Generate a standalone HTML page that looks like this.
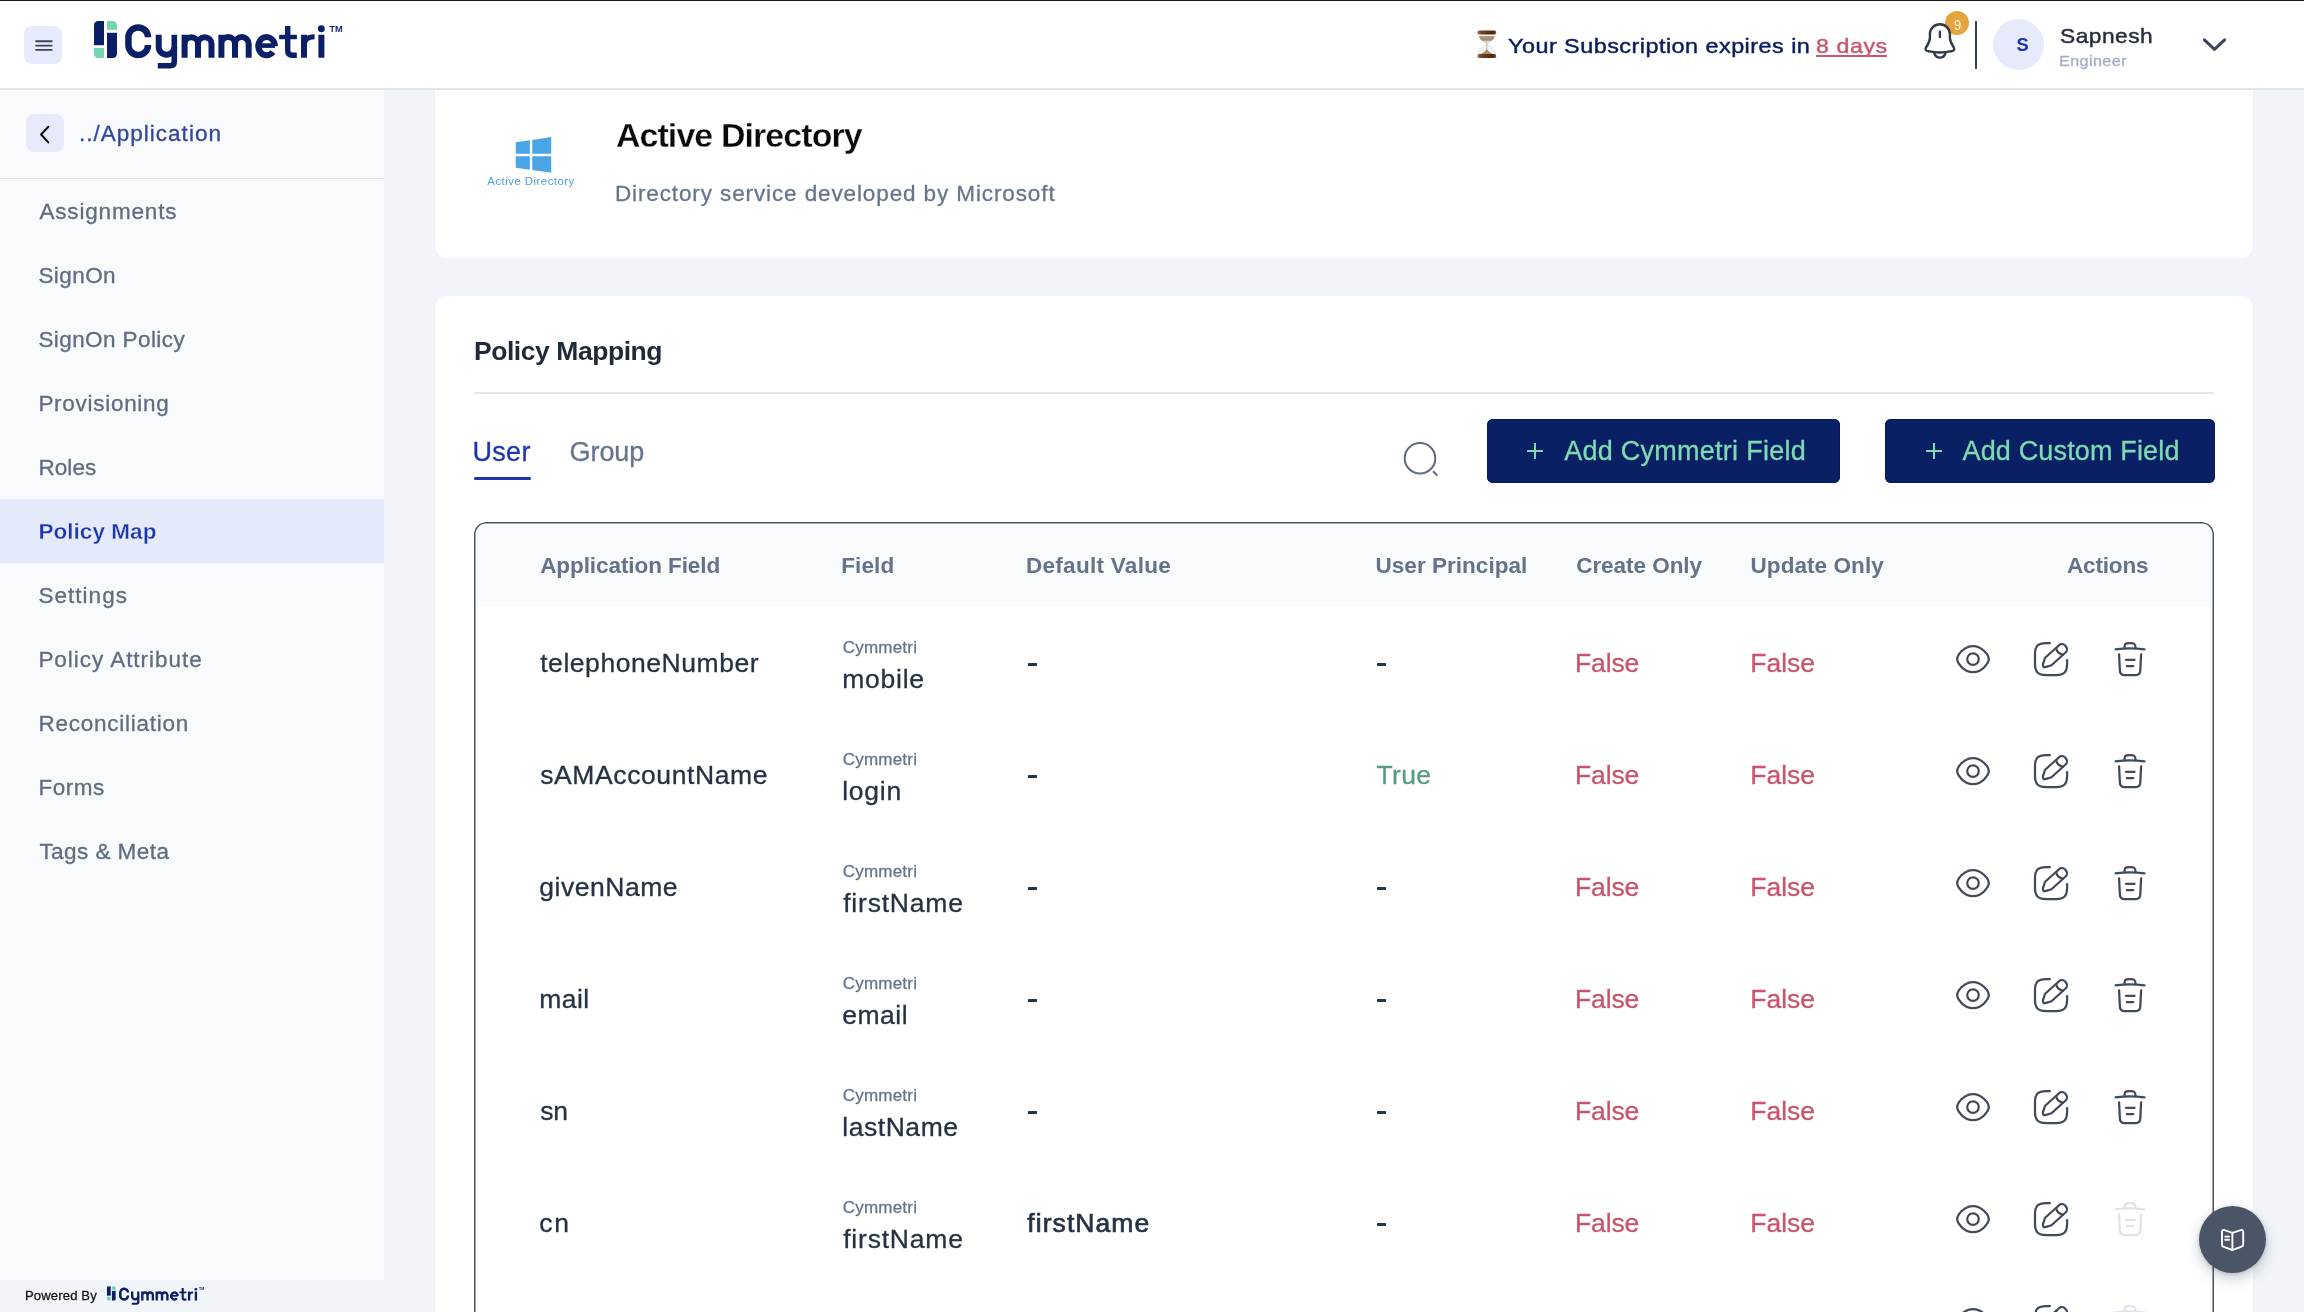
<!DOCTYPE html>
<html lang="en"><head><meta charset="utf-8"><title>Cymmetri - Active Directory - Policy Map</title>
<style>
*{box-sizing:border-box;margin:0;padding:0}
html,body{width:2304px;height:1312px;overflow:hidden;background:#f1f5f9}
body{position:relative;font-family:"Liberation Sans",sans-serif;-webkit-font-smoothing:antialiased}
.abs,.t{position:absolute;display:block}
.t{white-space:nowrap;line-height:1;font-weight:400;font-style:normal;-webkit-text-stroke:.3px currentColor}
h1,h2,p{margin:0}
i{font-style:normal}
button{border:0;background:none;font:inherit;padding:0;cursor:pointer}
ul{list-style:none}
#topline{position:absolute;left:0;top:0;width:2304px;height:1px;background:#15171c;z-index:9}
header,aside,main,footer{will-change:transform}
header{position:absolute;left:0;top:0;width:2304px;height:90px;background:#fff;border-bottom:2px solid #e2e7ee;z-index:5}
.sq{width:38px;height:38px;border-radius:8px;background:#e6eafb}
aside{position:absolute;left:0;top:90px;width:384px;height:1190px;background:#f8fafc;overflow:hidden}
aside li{position:absolute;left:0;width:384px;height:64px}
aside li.on{background:#e5eafb}
main{position:absolute;left:384px;top:90px;width:1920px;height:1222px;background:#f1f5f9;overflow:hidden}
.card{position:absolute;background:#fff;overflow:hidden}
.btn{height:64px;border-radius:6px;background:#0a2064;box-shadow:inset 0 0 0 1px #06195a}
.table{position:absolute;border-radius:12px;background:#fff;overflow:hidden}
.thead{position:absolute;background:#f8fafc;border-radius:9px 9px 0 0}
.tr{position:absolute;left:0;width:1740px;height:112px}
.dash{width:9.2px;height:2.8px;background:#273244;border-radius:.5px}
footer{position:absolute;left:0;top:1280px;width:384px;height:32px;background:#f1f5f9}
.fab{width:67px;height:67px;border-radius:50%;background:#4a5568;box-shadow:0 6px 14px rgba(30,41,59,.22),0 1px 4px rgba(30,41,59,.18);z-index:8}
</style></head><body>
<div id="topline"></div>
<header><button class="abs sq" style="left:24px;top:26px" aria-label="menu"><svg width="38" height="38" viewBox="0 0 38 38"><path d="M12.1 15.3H27.7M12.1 19.6H27.7M12.1 23.9H27.7" stroke="#3b4558" stroke-width="1.9" stroke-linecap="round" fill="none"/></svg></button><svg class="abs" style="left:92px;top:18px" width="254.00" height="54.00" viewBox="92 18 254 54">
<defs><clipPath id="mka"><rect x="94" y="21" width="23" height="37" rx="4.2"/></clipPath></defs>
<g clip-path="url(#mka)">
<rect x="94" y="21" width="10" height="24.2" fill="#0b1f66"/>
<rect x="94" y="48" width="10" height="10" fill="#74d4ad"/>
<rect x="107" y="21" width="10" height="8.8" fill="#74d4ad"/>
<rect x="107" y="32.8" width="10" height="25.2" fill="#0b1f66"/>
</g>
<g fill="none" stroke="#0b1f66" stroke-width="6" stroke-linejoin="round">
<path stroke-width="6.5" d="M148 37.3 A9.775 9.775 0 0 0 128.45 37.1 V45.2 A9.775 9.775 0 0 0 148 45"/>
<path d="M158.7 34.75 V46.9 A7.8 7.8 0 0 0 174.3 46.9"/>
<path d="M174.3 34.75 V61.6 Q174.3 65.8 170 65.8 H157.8" stroke-width="5.6"/>
<path d="M184.6 57.7 V34.75 M184.6 43.9 A6.7 6.7 0 0 1 198 43.9 V57.7 M198 43.9 A6.75 6.75 0 0 1 211.5 43.9 V57.7"/>
<path d="M221.4 57.7 V34.75 M221.4 43.9 A6.8 6.8 0 0 1 235 43.9 V57.7 M235 43.9 A6.85 6.85 0 0 1 248.7 43.9 V57.7"/>
<path d="M274.9 46.3 A8.3 9.1 0 1 0 272.96 52"/>
<path d="M258.5 45.6 H275" stroke-width="4.6"/>
<path d="M287.7 25.9 V50.6 Q287.7 55.3 292.4 55.3 H296.8" stroke-width="5.4"/>
<path d="M279.2 37 H296.9" stroke-width="4.5"/>
<path d="M304 57.7 V34.75"/>
<path d="M304 46.5 C304 39.6 307.2 36.8 314.6 36.8" stroke-width="5"/>
<path d="M321.4 34.75 V57.7"/>
</g>
<circle cx="321.3" cy="28.8" r="3.45" fill="#0b1f66"/>
<text x="329.6" y="31.7" font-family="Liberation Sans, sans-serif" font-weight="700" font-size="8.4" textLength="13" lengthAdjust="spacingAndGlyphs" fill="#0b1f66">TM</text>
</svg><svg class="abs" style="left:1474px;top:28px" width="26" height="32" viewBox="1474 28 26 32">
<defs>
<linearGradient id="hgc" x1="0" x2="1" y1="0" y2="0"><stop offset="0" stop-color="#9a6a48"/><stop offset=".25" stop-color="#6e4126"/><stop offset=".8" stop-color="#4a2714"/><stop offset="1" stop-color="#7a4b2d"/></linearGradient>
<linearGradient id="hgu" x1="0" x2="0" y1="34.4" y2="44.2" gradientUnits="userSpaceOnUse"><stop offset="0" stop-color="#f4f4f6"/><stop offset=".17" stop-color="#f4f4f6"/><stop offset=".2" stop-color="#b39d7e"/><stop offset=".6" stop-color="#a38b69"/><stop offset=".68" stop-color="#dcdce0"/><stop offset="1" stop-color="#c8c8ce"/></linearGradient>
</defs>
<path d="M1478.8 34.4 C1478.8 40.4 1484.2 42 1486.85 44.3 C1489.5 42 1494.9 40.4 1494.9 34.4 Z" fill="url(#hgu)"/>
<path d="M1486.85 43.9 C1484.2 46.4 1478.8 47.8 1478.8 54 H1494.9 C1494.9 47.8 1489.5 46.4 1486.85 43.9 Z" fill="#f3f4f8" stroke="#d9dbe3" stroke-width=".7"/>
<path d="M1486.85 44 V50" stroke="#cdb999" stroke-width="1"/>
<path d="M1486.85 49.3 C1488.5 51.6 1491 53 1492.8 54.2 H1480.9 C1482.7 53 1485.2 51.6 1486.85 49.3 Z" fill="#b58d58"/>
<rect x="1477.5" y="30.6" width="18.7" height="3.8" rx="1.7" fill="url(#hgc)"/>
<rect x="1477.5" y="54" width="18.7" height="4" rx="1.7" fill="url(#hgc)"/>
</svg><span class="t" style="left:1508.20px;top:35.00px;font-size:21px;color:#0b1d5e;letter-spacing:0.421px;transform:scaleX(1.1142);transform-origin:0 0;-webkit-text-stroke:.45px #0b1d5e;">Your Subscription expires in</span><span class="t" style="left:1816.20px;top:35.00px;font-size:21px;color:#c9586d;letter-spacing:0.501px;transform:scaleX(1.1053);transform-origin:0 0;-webkit-text-stroke:.45px #c9586d;">8 days</span><i class="abs" style="left:1816px;top:54.5px;width:71px;height:2px;background:#c9586d"></i><i class="abs" style="left:1945px;top:11px;width:24px;height:24px;border-radius:50%;background:#e4a53e"></i><span class="t" style="left:1953.60px;top:17.00px;font-size:15.5px;color:#fff4d8;-webkit-text-stroke:0;transform:scaleX(.84);transform-origin:0 0;">9</span><svg class="abs" style="left:1920px;top:20px" width="40" height="42" viewBox="1920 20 40 42"><g fill="none" stroke="#2f3a4d" stroke-width="2.4" stroke-linecap="round" stroke-linejoin="round">
<path d="M1939.9 24.2 C1934.4 24.2 1929.9 28.7 1929.9 34.2 V37.8 C1929.9 41.4 1928.4 43.8 1926.6 46.5 C1924.7 49.3 1925.2 50.6 1928.4 51.2 C1932 52 1936 52.5 1939.9 52.5 C1943.8 52.5 1947.8 52 1951.4 51.2 C1954.6 50.6 1955.1 49.3 1953.2 46.5 C1951.4 43.8 1949.9 41.4 1949.9 37.8 V34.2 C1949.9 28.7 1945.4 24.2 1939.9 24.2 Z"/>
<path d="M1934.4 53.7 C1935.5 56.5 1937.5 57.6 1939.9 57.6 C1942.3 57.6 1944.3 56.5 1945.4 53.7"/>
<path d="M1939.9 31.7 V37.1"/></g></svg><i class="abs" style="left:1975px;top:21px;width:2px;height:48px;background:#364053"></i><i class="abs" style="left:1993px;top:19px;width:51px;height:51px;border-radius:50%;background:#e6eafb"></i><span class="t" style="left:2016.40px;top:36.00px;font-size:18.3px;color:#1a34b4;font-weight:700;-webkit-text-stroke:0;">S</span><span class="t" style="left:2060.40px;top:25.00px;font-size:21px;color:#242e3f;letter-spacing:0.447px;transform:scaleX(1.0824);transform-origin:0 0;-webkit-text-stroke:.45px #242e3f;">Sapnesh</span><span class="t" style="left:2059.29px;top:54.00px;font-size:14.5px;color:#a3adc4;letter-spacing:0.361px;transform:scaleX(1.1148);transform-origin:0 0;">Engineer</span><svg class="abs" style="left:2200px;top:34px" width="30" height="22" viewBox="2200 34 30 22"><path d="M2204.4 39.8 L2214.5 49.4 L2224.6 39.8" fill="none" stroke="#3a4659" stroke-width="3" stroke-linecap="round" stroke-linejoin="round"/></svg></header>
<aside><nav><a class="abs sq" style="left:26px;top:24px"><svg width="38" height="38" viewBox="0 0 38 38"><path d="M22.3 12.7 L15.1 20.5 L22.3 28.4" fill="none" stroke="#0c0c0c" stroke-width="2" stroke-linecap="round" stroke-linejoin="round"/></svg></a><span class="t" style="left:79.00px;top:33.00px;font-size:22.5px;color:#2f4798;letter-spacing:1.007px;">../Application</span><i class="abs" style="left:0;top:88px;width:384px;height:1px;background:#dfe4eb"></i><ul><li style="top:89px"><span class="t" style="left:39.40px;top:22.00px;font-size:22.5px;color:#5f6c81;letter-spacing:0.835px;">Assignments</span></li><li style="top:153px"><span class="t" style="left:38.40px;top:22.00px;font-size:22.5px;color:#5f6c81;letter-spacing:0.433px;">SignOn</span></li><li style="top:217px"><span class="t" style="left:38.40px;top:22.00px;font-size:22.5px;color:#5f6c81;letter-spacing:0.411px;">SignOn Policy</span></li><li style="top:281px"><span class="t" style="left:38.40px;top:22.00px;font-size:22.5px;color:#5f6c81;letter-spacing:0.714px;">Provisioning</span></li><li style="top:345px"><span class="t" style="left:38.40px;top:22.00px;font-size:22.5px;color:#5f6c81;letter-spacing:0.106px;">Roles</span></li><li class="on" style="top:409px"><span class="t" style="left:38.40px;top:22.00px;font-size:22.5px;color:#1c37ac;font-weight:700;letter-spacing:0.057px;-webkit-text-stroke:.35px #e5eafb;">Policy Map</span></li><li style="top:473px"><span class="t" style="left:38.40px;top:22.00px;font-size:22.5px;color:#5f6c81;letter-spacing:1.036px;">Settings</span></li><li style="top:537px"><span class="t" style="left:38.40px;top:22.00px;font-size:22.5px;color:#5f6c81;letter-spacing:0.963px;">Policy Attribute</span></li><li style="top:601px"><span class="t" style="left:38.40px;top:22.00px;font-size:22.5px;color:#5f6c81;letter-spacing:0.749px;">Reconciliation</span></li><li style="top:665px"><span class="t" style="left:38.40px;top:22.00px;font-size:22.5px;color:#5f6c81;letter-spacing:0.502px;">Forms</span></li><li style="top:729px"><span class="t" style="left:39.40px;top:22.00px;font-size:22.5px;color:#5f6c81;letter-spacing:0.446px;">Tags &amp; Meta</span></li></ul></nav></aside>
<main><section class="card" style="left:51px;top:-50px;width:1818px;height:218px;border-radius:0 0 12px 12px"><svg class="abs" style="left:80px;top:96px" width="38" height="38" viewBox="515 136 38 38"><g fill="#4aa5e6">
<path d="M515.74 142.27 L529.88 140.3 V153.85 H515.74 Z"/><path d="M532.28 139.98 L551.22 137.1 V153.85 H532.28 Z"/>
<path d="M515.74 156.25 H529.88 V169.74 L515.74 167.7 Z"/><path d="M532.28 156.25 H551.22 V172.84 L532.28 170.06 Z"/></g></svg><span class="t" style="left:52.30px;top:136.00px;font-size:11.4px;color:#4f9fdc;letter-spacing:0.483px;-webkit-text-stroke:0;">Active Directory</span><h1 class="t" style="left:180.90px;top:79.00px;font-size:33.9px;color:#0a0a0a;font-weight:700;letter-spacing:-0.879px;-webkit-text-stroke:.3px #fff;">Active Directory</h1><p class="t" style="left:179.90px;top:143.00px;font-size:22.5px;color:#66758c;letter-spacing:0.887px;">Directory service developed by Microsoft</p></section><section class="card" style="left:51px;top:206px;width:1818px;height:1100px;border-radius:12px 12px 0 0"><h2 class="t" style="left:39.00px;top:42.00px;font-size:26.5px;color:#1f2937;font-weight:700;-webkit-text-stroke:0;letter-spacing:-0.451px;">Policy Mapping</h2><i class="abs" style="left:39px;top:96px;width:1740px;height:2px;background:#e4e8ef"></i><span class="t" style="left:37.40px;top:143.00px;font-size:27px;color:#1c37ac;letter-spacing:0.328px;">User</span><i class="abs" style="left:39px;top:180.5px;width:57px;height:3.5px;border-radius:2px;background:#1c37ac"></i><span class="t" style="left:134.60px;top:143.00px;font-size:27px;color:#66758c;letter-spacing:-0.081px;">Group</span><svg class="abs" style="left:965px;top:142px" width="40" height="40" viewBox="1400 438 40 40"><g fill="none" stroke="#606d80" stroke-width="2.05" stroke-linecap="round"><circle cx="1420" cy="458.25" r="15.3"/><path d="M1433.6 471.8 L1436.8 475"/></g></svg><button class="abs btn" style="left:1052px;top:123px;width:353px"><svg class="abs" style="left:39.200000000000045px;top:23px" width="18" height="18" viewBox="0 0 18 18"><path d="M9 1.1V16.9M1.1 9H16.9" stroke="#7fdab2" stroke-width="2" fill="none"/></svg><span class="t" style="left:77.20px;top:19.00px;font-size:27px;color:#7fdab2;letter-spacing:0.262px;">Add Cymmetri Field</span></button><button class="abs btn" style="left:1450px;top:123px;width:329.5px"><svg class="abs" style="left:39.799999999999955px;top:23px" width="18" height="18" viewBox="0 0 18 18"><path d="M9 1.1V16.9M1.1 9H16.9" stroke="#7fdab2" stroke-width="2" fill="none"/></svg><span class="t" style="left:77.50px;top:19.00px;font-size:27px;color:#7fdab2;letter-spacing:0.155px;">Add Custom Field</span></button><div class="table" style="left:39px;top:226px;width:1740px;height:900px"><div class="thead" style="left:2.5px;top:3px;width:1735px;height:81px"><span class="t" style="left:63.70px;top:30.00px;font-size:22.5px;color:#64728a;font-weight:700;-webkit-text-stroke:0;letter-spacing:-0.076px;">Application Field</span><span class="t" style="left:364.70px;top:30.00px;font-size:22.5px;color:#64728a;font-weight:700;-webkit-text-stroke:0;letter-spacing:0.135px;">Field</span><span class="t" style="left:549.50px;top:30.00px;font-size:22.5px;color:#64728a;font-weight:700;-webkit-text-stroke:0;letter-spacing:0.285px;">Default Value</span><span class="t" style="left:899.00px;top:30.00px;font-size:22.5px;color:#64728a;font-weight:700;-webkit-text-stroke:0;letter-spacing:0.034px;">User Principal</span><span class="t" style="left:1099.70px;top:30.00px;font-size:22.5px;color:#64728a;font-weight:700;-webkit-text-stroke:0;letter-spacing:-0.039px;">Create Only</span><span class="t" style="left:1274.00px;top:30.00px;font-size:22.5px;color:#64728a;font-weight:700;-webkit-text-stroke:0;letter-spacing:0.070px;">Update Only</span><span class="t" style="left:1590.50px;top:30.00px;font-size:22.5px;color:#64728a;font-weight:700;-webkit-text-stroke:0;letter-spacing:-0.166px;">Actions</span></div><div class="tr" style="top:84px"><span class="t" style="left:66.20px;top:44.00px;font-size:26.5px;color:#273244;letter-spacing:0.551px;">telephoneNumber</span><span class="t" style="left:368.70px;top:33.00px;font-size:17px;color:#66758c;letter-spacing:0.223px;">Cymmetri</span><span class="t" style="left:368.20px;top:60.00px;font-size:26.5px;color:#273244;letter-spacing:0.755px;">mobile</span><i class="abs dash" style="left:553.5999999999999px;top:57.0px"></i><i class="abs dash" style="left:902.5999999999999px;top:57.0px"></i><span class="t" style="left:1101.00px;top:44.00px;font-size:26.5px;color:#c6566b;letter-spacing:-0.116px;">False</span><span class="t" style="left:1276.30px;top:44.00px;font-size:26.5px;color:#c6566b;letter-spacing:-0.016px;">False</span><svg class="abs ic" style="left:1480.9px;top:35.1px" width="36" height="36" viewBox="0 0 36 36"><g fill="none" stroke="#3f4a5c" stroke-width="2.25" stroke-linecap="round" stroke-linejoin="round">
<path d="M2.2 18.1 C2.2 14.6 8.4 5 18 5 C27.6 5 33.8 14.6 33.8 18.1 C33.8 21.6 27.6 31.2 18 31.2 C8.4 31.2 2.2 21.6 2.2 18.1 Z"/>
<circle cx="18" cy="18.1" r="5.8"/></g></svg><svg class="abs ic" style="left:1559.3px;top:35.1px" width="36" height="36" viewBox="0 0 36 36"><g fill="none" stroke="#3f4a5c" stroke-width="2.25" stroke-linecap="round" stroke-linejoin="round">
<path d="M16.9 2 H13.2 C5 2 2 5 2 13.2 V22.8 C2 31 5 34 13.2 34 H22.9 C31.1 34 34.1 31 34.1 22.8 V19.1"/>
<g transform="translate(15.2 20.6) rotate(-42.1)">
<path d="M0 -4.9 H19 A4.3 4.3 0 0 1 23.3 -0.6 V0.6 A4.3 4.3 0 0 1 19 4.9 H0 L-5.2 2.5 Q-8.6 0.9 -5.6 -1.6 Z"/>
<path d="M15.2 -4.9 Q12.2 -0.8 15.4 4.9"/>
</g></g></svg><svg class="abs ic" style="left:1637.5px;top:35.1px" width="36" height="36" viewBox="0 0 36 36"><g fill="none" stroke="#3f4a5c" stroke-width="2.25" stroke-linecap="round" stroke-linejoin="round">
<path d="M3.5 8.45 Q18 6.5 32.5 8.45"/>
<path d="M12.5 7 C12.5 3.1 13.4 2.1 16.6 2.1 H19.5 C22.6 2.1 23.5 3.1 23.5 7"/>
<path d="M7.05 13.3 L7.9 29.6 C8.1 32.9 9.4 34 12.3 34 H23.9 C26.8 34 28.1 32.9 28.3 29.6 L29.1 13.3"/>
<path d="M13.9 18.85 H22.5 M14.9 25.2 H21.25"/></g></svg></div><div class="tr" style="top:196px"><span class="t" style="left:66.20px;top:44.00px;font-size:26.5px;color:#273244;letter-spacing:0.608px;">sAMAccountName</span><span class="t" style="left:368.70px;top:33.00px;font-size:17px;color:#66758c;letter-spacing:0.223px;">Cymmetri</span><span class="t" style="left:368.20px;top:60.00px;font-size:26.5px;color:#273244;letter-spacing:0.762px;">login</span><i class="abs dash" style="left:553.5999999999999px;top:57.0px"></i><span class="t" style="left:902.50px;top:44.00px;font-size:26.5px;color:#569d82;letter-spacing:0.311px;">True</span><span class="t" style="left:1101.00px;top:44.00px;font-size:26.5px;color:#c6566b;letter-spacing:-0.116px;">False</span><span class="t" style="left:1276.30px;top:44.00px;font-size:26.5px;color:#c6566b;letter-spacing:-0.016px;">False</span><svg class="abs ic" style="left:1480.9px;top:35.1px" width="36" height="36" viewBox="0 0 36 36"><g fill="none" stroke="#3f4a5c" stroke-width="2.25" stroke-linecap="round" stroke-linejoin="round">
<path d="M2.2 18.1 C2.2 14.6 8.4 5 18 5 C27.6 5 33.8 14.6 33.8 18.1 C33.8 21.6 27.6 31.2 18 31.2 C8.4 31.2 2.2 21.6 2.2 18.1 Z"/>
<circle cx="18" cy="18.1" r="5.8"/></g></svg><svg class="abs ic" style="left:1559.3px;top:35.1px" width="36" height="36" viewBox="0 0 36 36"><g fill="none" stroke="#3f4a5c" stroke-width="2.25" stroke-linecap="round" stroke-linejoin="round">
<path d="M16.9 2 H13.2 C5 2 2 5 2 13.2 V22.8 C2 31 5 34 13.2 34 H22.9 C31.1 34 34.1 31 34.1 22.8 V19.1"/>
<g transform="translate(15.2 20.6) rotate(-42.1)">
<path d="M0 -4.9 H19 A4.3 4.3 0 0 1 23.3 -0.6 V0.6 A4.3 4.3 0 0 1 19 4.9 H0 L-5.2 2.5 Q-8.6 0.9 -5.6 -1.6 Z"/>
<path d="M15.2 -4.9 Q12.2 -0.8 15.4 4.9"/>
</g></g></svg><svg class="abs ic" style="left:1637.5px;top:35.1px" width="36" height="36" viewBox="0 0 36 36"><g fill="none" stroke="#3f4a5c" stroke-width="2.25" stroke-linecap="round" stroke-linejoin="round">
<path d="M3.5 8.45 Q18 6.5 32.5 8.45"/>
<path d="M12.5 7 C12.5 3.1 13.4 2.1 16.6 2.1 H19.5 C22.6 2.1 23.5 3.1 23.5 7"/>
<path d="M7.05 13.3 L7.9 29.6 C8.1 32.9 9.4 34 12.3 34 H23.9 C26.8 34 28.1 32.9 28.3 29.6 L29.1 13.3"/>
<path d="M13.9 18.85 H22.5 M14.9 25.2 H21.25"/></g></svg></div><div class="tr" style="top:308px"><span class="t" style="left:65.20px;top:44.00px;font-size:26.5px;color:#273244;letter-spacing:0.537px;">givenName</span><span class="t" style="left:368.70px;top:33.00px;font-size:17px;color:#66758c;letter-spacing:0.223px;">Cymmetri</span><span class="t" style="left:369.20px;top:60.00px;font-size:26.5px;color:#273244;letter-spacing:0.795px;">firstName</span><i class="abs dash" style="left:553.5999999999999px;top:57.0px"></i><i class="abs dash" style="left:902.5999999999999px;top:57.0px"></i><span class="t" style="left:1101.00px;top:44.00px;font-size:26.5px;color:#c6566b;letter-spacing:-0.116px;">False</span><span class="t" style="left:1276.30px;top:44.00px;font-size:26.5px;color:#c6566b;letter-spacing:-0.016px;">False</span><svg class="abs ic" style="left:1480.9px;top:35.1px" width="36" height="36" viewBox="0 0 36 36"><g fill="none" stroke="#3f4a5c" stroke-width="2.25" stroke-linecap="round" stroke-linejoin="round">
<path d="M2.2 18.1 C2.2 14.6 8.4 5 18 5 C27.6 5 33.8 14.6 33.8 18.1 C33.8 21.6 27.6 31.2 18 31.2 C8.4 31.2 2.2 21.6 2.2 18.1 Z"/>
<circle cx="18" cy="18.1" r="5.8"/></g></svg><svg class="abs ic" style="left:1559.3px;top:35.1px" width="36" height="36" viewBox="0 0 36 36"><g fill="none" stroke="#3f4a5c" stroke-width="2.25" stroke-linecap="round" stroke-linejoin="round">
<path d="M16.9 2 H13.2 C5 2 2 5 2 13.2 V22.8 C2 31 5 34 13.2 34 H22.9 C31.1 34 34.1 31 34.1 22.8 V19.1"/>
<g transform="translate(15.2 20.6) rotate(-42.1)">
<path d="M0 -4.9 H19 A4.3 4.3 0 0 1 23.3 -0.6 V0.6 A4.3 4.3 0 0 1 19 4.9 H0 L-5.2 2.5 Q-8.6 0.9 -5.6 -1.6 Z"/>
<path d="M15.2 -4.9 Q12.2 -0.8 15.4 4.9"/>
</g></g></svg><svg class="abs ic" style="left:1637.5px;top:35.1px" width="36" height="36" viewBox="0 0 36 36"><g fill="none" stroke="#3f4a5c" stroke-width="2.25" stroke-linecap="round" stroke-linejoin="round">
<path d="M3.5 8.45 Q18 6.5 32.5 8.45"/>
<path d="M12.5 7 C12.5 3.1 13.4 2.1 16.6 2.1 H19.5 C22.6 2.1 23.5 3.1 23.5 7"/>
<path d="M7.05 13.3 L7.9 29.6 C8.1 32.9 9.4 34 12.3 34 H23.9 C26.8 34 28.1 32.9 28.3 29.6 L29.1 13.3"/>
<path d="M13.9 18.85 H22.5 M14.9 25.2 H21.25"/></g></svg></div><div class="tr" style="top:420px"><span class="t" style="left:65.20px;top:44.00px;font-size:26.5px;color:#273244;letter-spacing:0.467px;">mail</span><span class="t" style="left:368.70px;top:33.00px;font-size:17px;color:#66758c;letter-spacing:0.223px;">Cymmetri</span><span class="t" style="left:368.20px;top:60.00px;font-size:26.5px;color:#273244;letter-spacing:0.540px;">email</span><i class="abs dash" style="left:553.5999999999999px;top:57.0px"></i><i class="abs dash" style="left:902.5999999999999px;top:57.0px"></i><span class="t" style="left:1101.00px;top:44.00px;font-size:26.5px;color:#c6566b;letter-spacing:-0.116px;">False</span><span class="t" style="left:1276.30px;top:44.00px;font-size:26.5px;color:#c6566b;letter-spacing:-0.016px;">False</span><svg class="abs ic" style="left:1480.9px;top:35.1px" width="36" height="36" viewBox="0 0 36 36"><g fill="none" stroke="#3f4a5c" stroke-width="2.25" stroke-linecap="round" stroke-linejoin="round">
<path d="M2.2 18.1 C2.2 14.6 8.4 5 18 5 C27.6 5 33.8 14.6 33.8 18.1 C33.8 21.6 27.6 31.2 18 31.2 C8.4 31.2 2.2 21.6 2.2 18.1 Z"/>
<circle cx="18" cy="18.1" r="5.8"/></g></svg><svg class="abs ic" style="left:1559.3px;top:35.1px" width="36" height="36" viewBox="0 0 36 36"><g fill="none" stroke="#3f4a5c" stroke-width="2.25" stroke-linecap="round" stroke-linejoin="round">
<path d="M16.9 2 H13.2 C5 2 2 5 2 13.2 V22.8 C2 31 5 34 13.2 34 H22.9 C31.1 34 34.1 31 34.1 22.8 V19.1"/>
<g transform="translate(15.2 20.6) rotate(-42.1)">
<path d="M0 -4.9 H19 A4.3 4.3 0 0 1 23.3 -0.6 V0.6 A4.3 4.3 0 0 1 19 4.9 H0 L-5.2 2.5 Q-8.6 0.9 -5.6 -1.6 Z"/>
<path d="M15.2 -4.9 Q12.2 -0.8 15.4 4.9"/>
</g></g></svg><svg class="abs ic" style="left:1637.5px;top:35.1px" width="36" height="36" viewBox="0 0 36 36"><g fill="none" stroke="#3f4a5c" stroke-width="2.25" stroke-linecap="round" stroke-linejoin="round">
<path d="M3.5 8.45 Q18 6.5 32.5 8.45"/>
<path d="M12.5 7 C12.5 3.1 13.4 2.1 16.6 2.1 H19.5 C22.6 2.1 23.5 3.1 23.5 7"/>
<path d="M7.05 13.3 L7.9 29.6 C8.1 32.9 9.4 34 12.3 34 H23.9 C26.8 34 28.1 32.9 28.3 29.6 L29.1 13.3"/>
<path d="M13.9 18.85 H22.5 M14.9 25.2 H21.25"/></g></svg></div><div class="tr" style="top:532px"><span class="t" style="left:66.20px;top:44.00px;font-size:26.5px;color:#273244;letter-spacing:-0.150px;">sn</span><span class="t" style="left:368.70px;top:33.00px;font-size:17px;color:#66758c;letter-spacing:0.223px;">Cymmetri</span><span class="t" style="left:368.20px;top:60.00px;font-size:26.5px;color:#273244;letter-spacing:0.559px;">lastName</span><i class="abs dash" style="left:553.5999999999999px;top:57.0px"></i><i class="abs dash" style="left:902.5999999999999px;top:57.0px"></i><span class="t" style="left:1101.00px;top:44.00px;font-size:26.5px;color:#c6566b;letter-spacing:-0.116px;">False</span><span class="t" style="left:1276.30px;top:44.00px;font-size:26.5px;color:#c6566b;letter-spacing:-0.016px;">False</span><svg class="abs ic" style="left:1480.9px;top:35.1px" width="36" height="36" viewBox="0 0 36 36"><g fill="none" stroke="#3f4a5c" stroke-width="2.25" stroke-linecap="round" stroke-linejoin="round">
<path d="M2.2 18.1 C2.2 14.6 8.4 5 18 5 C27.6 5 33.8 14.6 33.8 18.1 C33.8 21.6 27.6 31.2 18 31.2 C8.4 31.2 2.2 21.6 2.2 18.1 Z"/>
<circle cx="18" cy="18.1" r="5.8"/></g></svg><svg class="abs ic" style="left:1559.3px;top:35.1px" width="36" height="36" viewBox="0 0 36 36"><g fill="none" stroke="#3f4a5c" stroke-width="2.25" stroke-linecap="round" stroke-linejoin="round">
<path d="M16.9 2 H13.2 C5 2 2 5 2 13.2 V22.8 C2 31 5 34 13.2 34 H22.9 C31.1 34 34.1 31 34.1 22.8 V19.1"/>
<g transform="translate(15.2 20.6) rotate(-42.1)">
<path d="M0 -4.9 H19 A4.3 4.3 0 0 1 23.3 -0.6 V0.6 A4.3 4.3 0 0 1 19 4.9 H0 L-5.2 2.5 Q-8.6 0.9 -5.6 -1.6 Z"/>
<path d="M15.2 -4.9 Q12.2 -0.8 15.4 4.9"/>
</g></g></svg><svg class="abs ic" style="left:1637.5px;top:35.1px" width="36" height="36" viewBox="0 0 36 36"><g fill="none" stroke="#3f4a5c" stroke-width="2.25" stroke-linecap="round" stroke-linejoin="round">
<path d="M3.5 8.45 Q18 6.5 32.5 8.45"/>
<path d="M12.5 7 C12.5 3.1 13.4 2.1 16.6 2.1 H19.5 C22.6 2.1 23.5 3.1 23.5 7"/>
<path d="M7.05 13.3 L7.9 29.6 C8.1 32.9 9.4 34 12.3 34 H23.9 C26.8 34 28.1 32.9 28.3 29.6 L29.1 13.3"/>
<path d="M13.9 18.85 H22.5 M14.9 25.2 H21.25"/></g></svg></div><div class="tr" style="top:644px"><span class="t" style="left:65.20px;top:44.00px;font-size:26.5px;color:#273244;letter-spacing:1.850px;">cn</span><span class="t" style="left:368.70px;top:33.00px;font-size:17px;color:#66758c;letter-spacing:0.223px;">Cymmetri</span><span class="t" style="left:369.20px;top:60.00px;font-size:26.5px;color:#273244;letter-spacing:0.795px;">firstName</span><span class="t" style="left:553.30px;top:44.00px;font-size:26.5px;color:#273244;letter-spacing:1.070px;-webkit-text-stroke:.7px #273244;">firstName</span><i class="abs dash" style="left:902.5999999999999px;top:57.0px"></i><span class="t" style="left:1101.00px;top:44.00px;font-size:26.5px;color:#c6566b;letter-spacing:-0.116px;">False</span><span class="t" style="left:1276.30px;top:44.00px;font-size:26.5px;color:#c6566b;letter-spacing:-0.016px;">False</span><svg class="abs ic" style="left:1480.9px;top:35.1px" width="36" height="36" viewBox="0 0 36 36"><g fill="none" stroke="#3f4a5c" stroke-width="2.25" stroke-linecap="round" stroke-linejoin="round">
<path d="M2.2 18.1 C2.2 14.6 8.4 5 18 5 C27.6 5 33.8 14.6 33.8 18.1 C33.8 21.6 27.6 31.2 18 31.2 C8.4 31.2 2.2 21.6 2.2 18.1 Z"/>
<circle cx="18" cy="18.1" r="5.8"/></g></svg><svg class="abs ic" style="left:1559.3px;top:35.1px" width="36" height="36" viewBox="0 0 36 36"><g fill="none" stroke="#3f4a5c" stroke-width="2.25" stroke-linecap="round" stroke-linejoin="round">
<path d="M16.9 2 H13.2 C5 2 2 5 2 13.2 V22.8 C2 31 5 34 13.2 34 H22.9 C31.1 34 34.1 31 34.1 22.8 V19.1"/>
<g transform="translate(15.2 20.6) rotate(-42.1)">
<path d="M0 -4.9 H19 A4.3 4.3 0 0 1 23.3 -0.6 V0.6 A4.3 4.3 0 0 1 19 4.9 H0 L-5.2 2.5 Q-8.6 0.9 -5.6 -1.6 Z"/>
<path d="M15.2 -4.9 Q12.2 -0.8 15.4 4.9"/>
</g></g></svg><svg class="abs ic" style="left:1637.5px;top:35.1px" width="36" height="36" viewBox="0 0 36 36"><g fill="none" stroke="#dfe4ec" stroke-width="2.25" stroke-linecap="round" stroke-linejoin="round">
<path d="M3.5 8.45 Q18 6.5 32.5 8.45"/>
<path d="M12.5 7 C12.5 3.1 13.4 2.1 16.6 2.1 H19.5 C22.6 2.1 23.5 3.1 23.5 7"/>
<path d="M7.05 13.3 L7.9 29.6 C8.1 32.9 9.4 34 12.3 34 H23.9 C26.8 34 28.1 32.9 28.3 29.6 L29.1 13.3"/>
<path d="M13.9 18.85 H22.5 M14.9 25.2 H21.25"/></g></svg></div><div class="tr" style="top:756px"><svg class="abs ic" style="left:1480.9px;top:25.8px" width="36" height="36" viewBox="0 0 36 36"><g fill="none" stroke="#3f4a5c" stroke-width="2.25" stroke-linecap="round" stroke-linejoin="round">
<path d="M2.2 18.1 C2.2 14.6 8.4 5 18 5 C27.6 5 33.8 14.6 33.8 18.1 C33.8 21.6 27.6 31.2 18 31.2 C8.4 31.2 2.2 21.6 2.2 18.1 Z"/>
<circle cx="18" cy="18.1" r="5.8"/></g></svg><svg class="abs ic" style="left:1559.3px;top:25.8px" width="36" height="36" viewBox="0 0 36 36"><g fill="none" stroke="#3f4a5c" stroke-width="2.25" stroke-linecap="round" stroke-linejoin="round">
<path d="M16.9 2 H13.2 C5 2 2 5 2 13.2 V22.8 C2 31 5 34 13.2 34 H22.9 C31.1 34 34.1 31 34.1 22.8 V19.1"/>
<g transform="translate(15.2 20.6) rotate(-42.1)">
<path d="M0 -4.9 H19 A4.3 4.3 0 0 1 23.3 -0.6 V0.6 A4.3 4.3 0 0 1 19 4.9 H0 L-5.2 2.5 Q-8.6 0.9 -5.6 -1.6 Z"/>
<path d="M15.2 -4.9 Q12.2 -0.8 15.4 4.9"/>
</g></g></svg><svg class="abs ic" style="left:1637.5px;top:25.8px" width="36" height="36" viewBox="0 0 36 36"><g fill="none" stroke="#dfe4ec" stroke-width="2.25" stroke-linecap="round" stroke-linejoin="round">
<path d="M3.5 8.45 Q18 6.5 32.5 8.45"/>
<path d="M12.5 7 C12.5 3.1 13.4 2.1 16.6 2.1 H19.5 C22.6 2.1 23.5 3.1 23.5 7"/>
<path d="M7.05 13.3 L7.9 29.6 C8.1 32.9 9.4 34 12.3 34 H23.9 C26.8 34 28.1 32.9 28.3 29.6 L29.1 13.3"/>
<path d="M13.9 18.85 H22.5 M14.9 25.2 H21.25"/></g></svg></div><svg class="abs" style="left:0;top:0;pointer-events:none" width="1740" height="900" viewBox="0 0 1740 900"><rect x=".75" y=".75" width="1738.5" height="920" rx="11.5" fill="none" stroke="#4a5464" stroke-width="1.5"/></svg></div></section></main>
<footer><span class="t" style="left:24.85px;top:10.00px;font-size:12.5px;color:#151515;letter-spacing:0.139px;transform:scaleX(1.0454);transform-origin:0 0;">Powered By</span><svg class="abs" style="left:105.6px;top:5.099999999999909px" width="99.57" height="21.17" viewBox="92 18 254 54">
<defs><clipPath id="mkb"><rect x="94" y="21" width="23" height="37" rx="4.2"/></clipPath></defs>
<g clip-path="url(#mkb)">
<rect x="94" y="21" width="10" height="24.2" fill="#0b1f66"/>
<rect x="94" y="48" width="10" height="10" fill="#74d4ad"/>
<rect x="107" y="21" width="10" height="8.8" fill="#74d4ad"/>
<rect x="107" y="32.8" width="10" height="25.2" fill="#0b1f66"/>
</g>
<g fill="none" stroke="#0b1f66" stroke-width="6" stroke-linejoin="round">
<path stroke-width="6.5" d="M148 37.3 A9.775 9.775 0 0 0 128.45 37.1 V45.2 A9.775 9.775 0 0 0 148 45"/>
<path d="M158.7 34.75 V46.9 A7.8 7.8 0 0 0 174.3 46.9"/>
<path d="M174.3 34.75 V61.6 Q174.3 65.8 170 65.8 H157.8" stroke-width="5.6"/>
<path d="M184.6 57.7 V34.75 M184.6 43.9 A6.7 6.7 0 0 1 198 43.9 V57.7 M198 43.9 A6.75 6.75 0 0 1 211.5 43.9 V57.7"/>
<path d="M221.4 57.7 V34.75 M221.4 43.9 A6.8 6.8 0 0 1 235 43.9 V57.7 M235 43.9 A6.85 6.85 0 0 1 248.7 43.9 V57.7"/>
<path d="M274.9 46.3 A8.3 9.1 0 1 0 272.96 52"/>
<path d="M258.5 45.6 H275" stroke-width="4.6"/>
<path d="M287.7 25.9 V50.6 Q287.7 55.3 292.4 55.3 H296.8" stroke-width="5.4"/>
<path d="M279.2 37 H296.9" stroke-width="4.5"/>
<path d="M304 57.7 V34.75"/>
<path d="M304 46.5 C304 39.6 307.2 36.8 314.6 36.8" stroke-width="5"/>
<path d="M321.4 34.75 V57.7"/>
</g>
<circle cx="321.3" cy="28.8" r="3.45" fill="#0b1f66"/>
<text x="329.6" y="31.7" font-family="Liberation Sans, sans-serif" font-weight="700" font-size="8.4" textLength="13" lengthAdjust="spacingAndGlyphs" fill="#0b1f66">TM</text>
</svg></footer>
<button class="abs fab" style="left:2198.5px;top:1206px" aria-label="docs"><svg width="67" height="67" viewBox="2198.5 1206 67 67"><g fill="none" stroke="#fff" stroke-width="1.9" stroke-linecap="round" stroke-linejoin="round">
<path d="M2231.9 1232.8 L2224 1230.2 C2222.4 1229.7 2221.5 1230.4 2221.5 1232 V1244.6 C2221.5 1245.8 2222 1246.5 2223.2 1246.9 L2231.9 1250 L2240.6 1246.9 C2241.8 1246.5 2242.7 1245.8 2242.7 1244.6 V1232 C2242.7 1230.4 2241.8 1229.7 2240.2 1230.2 Z"/>
<path d="M2231.9 1232.8 V1250"/><path d="M2224.7 1236.6 H2228.5 M2224.7 1239.7 H2228.5"/></g></svg></button>
</body></html>
